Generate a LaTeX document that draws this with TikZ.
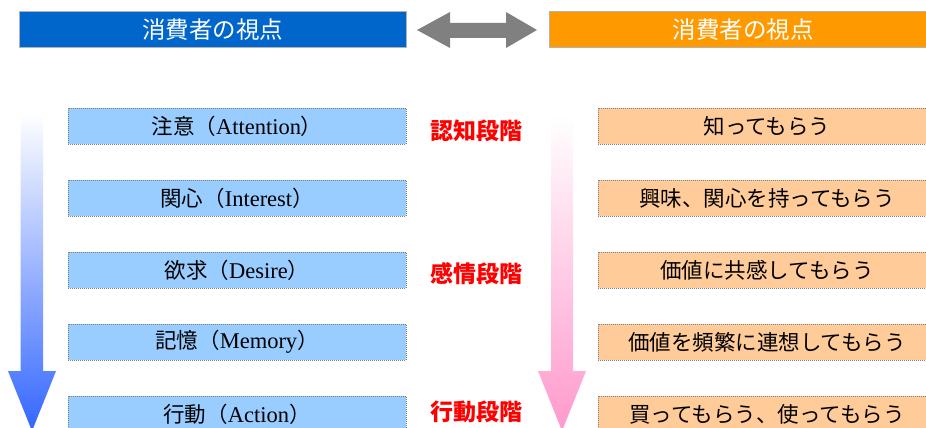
\documentclass[tikz,border=0pt]{standalone}
\usepackage{fontspec}
\setmainfont{Liberation Serif}
\newfontfamily\cjk{Noto Sans CJK JP}
\definecolor{headblue}{HTML}{0066CC}
\definecolor{headorange}{HTML}{FF9900}
\definecolor{boxblue}{HTML}{99CCFF}
\definecolor{boxorange}{HTML}{FFCC99}
\definecolor{arrowgray}{HTML}{808080}
\definecolor{arrowblue}{HTML}{3366FF}
\definecolor{arrowpink}{HTML}{FF99CC}
\definecolor{stagered}{HTML}{FF0000}
\tikzset{
  headbox/.style={draw=gray!60, line width=0.8pt, minimum width=387pt, minimum height=36pt, inner sep=0pt,
    text=white, font=\cjk\fontsize{23.5}{23.5}\selectfont},
  stagebox/.style={draw=gray, dash pattern=on 1pt off 1pt, line width=0.8pt, minimum width=338pt, minimum height=36pt, inner sep=0pt,
    font=\fontsize{22.5}{22.5}\selectfont},
  rightbox/.style={stagebox, fill=boxorange, font=\cjk\fontsize{21.5}{21.5}\selectfont},
  stagelabel/.style={inner sep=0pt, text=stagered, font=\cjk\bfseries\fontsize{23}{23}\selectfont},
}
\begin{document}
\begin{tikzpicture}[x=1pt,y=-1pt]
\useasboundingbox (0,0) rectangle (926,428);
\clip (0,0) rectangle (926,428);
% headers
\node[headbox, fill=headblue] (hl) at (212.5,29.5) {消費者の視点};
\node[headbox, fill=headorange] (hr) at (743,29.5) {消費者の視点};
\fill[arrowgray] (417,30) -- (450,12) -- (450,23) -- (506,23) -- (506,12) -- (537,30)
  -- (506,48) -- (506,38) -- (450,38) -- (450,48) -- cycle;
% gradient arrows
\shade[top color=white, bottom color=arrowblue] (20.7,113) -- (43,113) -- (43,371) -- (56,371)
  -- (32,431) -- (8,371) -- (20.7,371) -- cycle;
\shade[top color=white, bottom color=arrowpink] (551,115) -- (573,115) -- (573,371) -- (586,371)
  -- (562,431) -- (538,371) -- (551,371) -- cycle;
% left boxes
\node[stagebox, fill=boxblue] (l1) at (237,126) {{\cjk\fontsize{21.5}{21.5}\selectfont 注意（}Attention{\cjk\fontsize{21.5}{21.5}\selectfont ）}};
\node[stagebox, fill=boxblue] (l2) at (237,198) {{\cjk\fontsize{21.5}{21.5}\selectfont 関心（}Interest{\cjk\fontsize{21.5}{21.5}\selectfont ）}};
\node[stagebox, fill=boxblue] (l3) at (237,270) {{\cjk\fontsize{21.5}{21.5}\selectfont 欲求（}Desire{\cjk\fontsize{21.5}{21.5}\selectfont ）}};
\node[stagebox, fill=boxblue] (l4) at (237,342) {{\cjk\fontsize{21.5}{21.5}\selectfont 記憶（}Memory{\cjk\fontsize{21.5}{21.5}\selectfont ）}};
\node[stagebox, fill=boxblue] (l5) at (237,414) {{\cjk\fontsize{21.5}{21.5}\selectfont 行動（}Action{\cjk\fontsize{21.5}{21.5}\selectfont ）}};
% right boxes
\node[rightbox] (r1) at (767,126) {知ってもらう};
\node[rightbox] (r2) at (767,198) {興味、関心を持ってもらう};
\node[rightbox] (r3) at (767,270) {価値に共感してもらう};
\node[rightbox] (r4) at (767,342) {価値を頻繁に連想してもらう};
\node[rightbox] (r5) at (767,414) {買ってもらう、使ってもらう};
% stage labels
\node[stagelabel] (s1) at (476,131) {認知段階};
\node[stagelabel] (s2) at (476,274) {感情段階};
\node[stagelabel] (s3) at (476,412) {行動段階};
\end{tikzpicture}
\end{document}
